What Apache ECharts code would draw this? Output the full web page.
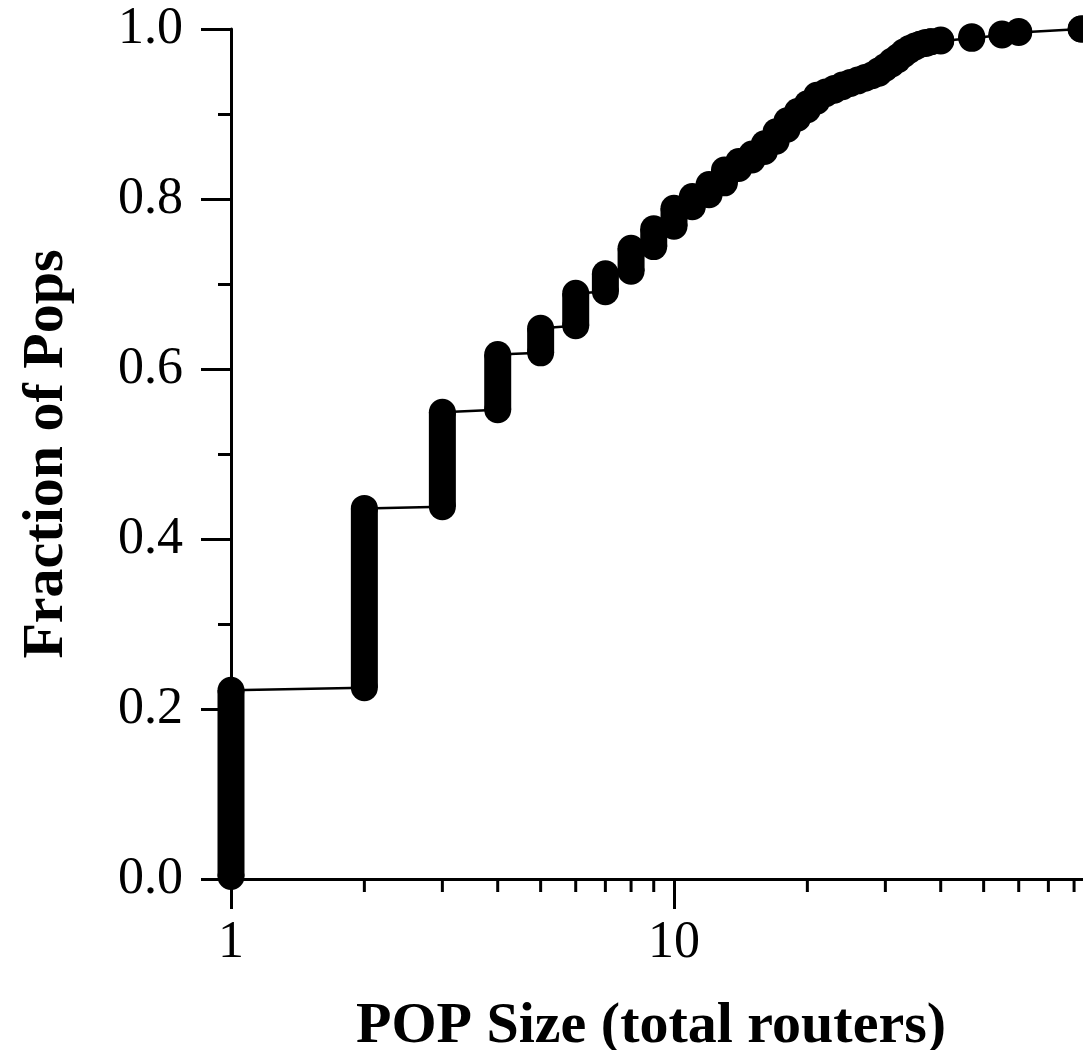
<!DOCTYPE html>
<html><head><meta charset="utf-8">
<script src="https://cdn.jsdelivr.net/npm/echarts@6/dist/echarts.min.js"></script>
<style>html,body{margin:0;padding:0;background:#fff}#c{width:1083px;height:1050px}</style>
</head><body><div id="c"></div>
<script>
// POP size (total routers) and the CDF range covered by the POPs of that size
const popSizes = [1,2,3,4,5,6,7,8,9,10,11,12,13,14,15,16,17,18,19,20,21,22,23,24,25,26,27,28,29,30,31,32,33,34,35,36,37,38,40,47,55,60,83];
const fracLow  = [0.003,0.225,0.438,0.552,0.619,0.651,0.691,0.715,0.744,0.768,0.791,0.805,0.819,0.836,0.846,0.856,0.868,0.882,0.895,0.905,0.915,0.924,0.928,0.932,0.936,0.939,0.942,0.945,0.948,0.954,0.959,0.964,0.970,0.975,0.979,0.982,0.983,0.985,0.986,0.989,0.993,0.996,1.000];
const fracHigh = [0.222,0.436,0.549,0.617,0.648,0.689,0.712,0.742,0.765,0.789,0.803,0.817,0.834,0.844,0.853,0.865,0.879,0.892,0.903,0.912,0.922,0.926,0.930,0.934,0.937,0.940,0.943,0.946,0.951,0.956,0.962,0.967,0.973,0.977,0.980,0.982,0.984,0.985,0.987,0.991,0.994,0.997,1.000];
const xMinorTicks = [2,3,4,5,6,7,8,9,20,30,40,50,60,70,80,90];
const xTickLabels = ['1', '10'];

const capsuleData = popSizes.map((s, i) => [s, fracLow[i], fracHigh[i]]);
const stepLine = [];
popSizes.forEach((s, i) => { stepLine.push([s, fracLow[i]]); stepLine.push([s, fracHigh[i]]); });
const minorTickData = xMinorTicks.map(v => [v, 0]);

const FONT = "'Liberation Serif','Times New Roman',serif";
const R = 13.5;
const chart = echarts.init(document.getElementById('c'), null, {renderer: 'canvas'});
chart.setOption({
  animation: false,
  backgroundColor: '#fff',
  grid: {left: 231, top: 29, bottom: 171, width: 886, containLabel: false, outerBoundsMode: 'none'},
  xAxis: {
    type: 'log', logBase: 10, min: 1, max: 100,
    axisLine: {lineStyle: {color: '#000', width: 3}},
    axisTick: {length: 30, lineStyle: {color: '#000', width: 3}},
    minorTick: {show: false},
    splitLine: {show: false},
    axisLabel: {margin: 38, fontSize: 52, fontFamily: FONT, color: '#000', showMaxLabel: false,
      formatter: v => (xTickLabels.indexOf(String(v)) >= 0 ? String(v) : '')},
    name: 'POP Size (total routers)', nameLocation: 'middle', nameGap: 119,
    nameTextStyle: {fontSize: 58, fontWeight: 'bold', fontFamily: FONT, color: '#000', padding: [0, 46, 0, 0]}
  },
  yAxis: {
    type: 'value', min: 0, max: 1, interval: 0.2,
    axisLine: {show: true, lineStyle: {color: '#000', width: 3}},
    axisTick: {show: true, length: 30, lineStyle: {color: '#000', width: 3}},
    minorTick: {show: true, splitNumber: 2, length: 13, lineStyle: {color: '#000', width: 3}},
    splitLine: {show: false},
    axisLabel: {margin: 48, fontSize: 52, fontFamily: FONT, color: '#000', formatter: v => v.toFixed(1)},
    name: 'Fraction of Pops', nameLocation: 'middle', nameGap: 155, nameRotate: 90,
    nameTextStyle: {fontSize: 58, fontWeight: 'bold', fontFamily: FONT, color: '#000'}
  },
  series: [
    {
      type: 'line', data: stepLine, showSymbol: false, symbol: 'none', z: 2,
      lineStyle: {color: '#000', width: 2.5}, clip: false
    },
    {
      type: 'custom', data: capsuleData, z: 3, clip: false,
      encode: {x: 0, y: [1, 2]},
      renderItem: function (params, api) {
        const a = api.coord([api.value(0), api.value(1)]);
        const b = api.coord([api.value(0), api.value(2)]);
        return {type: 'group', children: [
          {type: 'circle', shape: {cx: a[0], cy: a[1], r: R}, style: {fill: '#000'}},
          {type: 'circle', shape: {cx: b[0], cy: b[1], r: R}, style: {fill: '#000'}},
          {type: 'rect', shape: {x: a[0] - R, y: b[1], width: 2 * R, height: Math.max(0, a[1] - b[1])}, style: {fill: '#000'}}
        ]};
      }
    },
    {
      type: 'custom', data: minorTickData, z: 1, clip: false, silent: true,
      renderItem: function (params, api) {
        const p = api.coord([api.value(0), 0]);
        return {type: 'line', shape: {x1: p[0], y1: p[1], x2: p[0], y2: p[1] + 13}, style: {stroke: '#000', lineWidth: 3}};
      }
    }
  ]
});
</script></body></html>
